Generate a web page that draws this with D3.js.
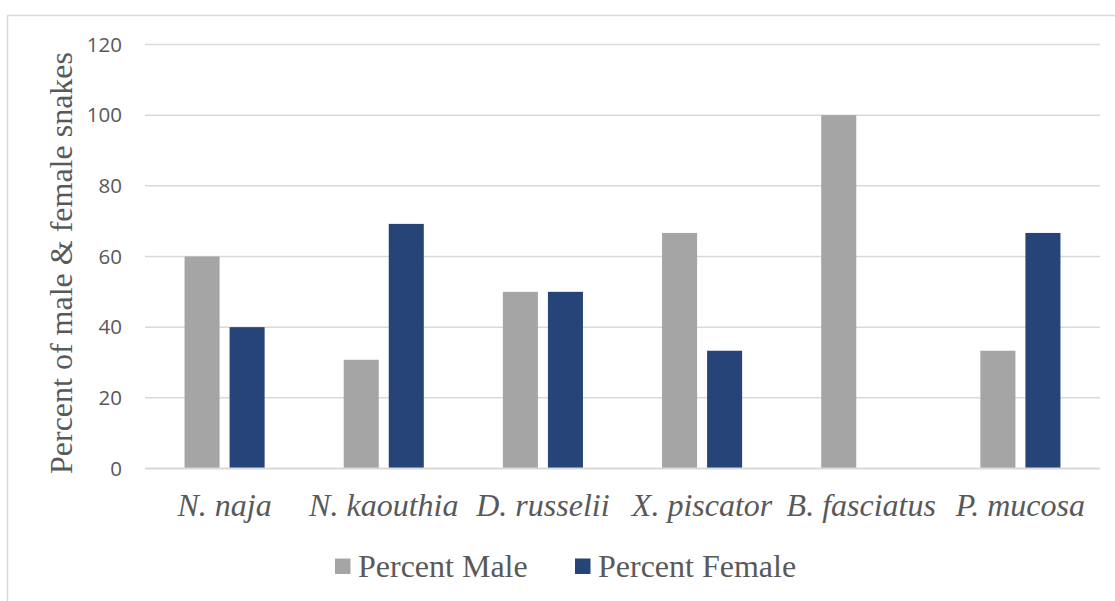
<!DOCTYPE html>
<html>
<head>
<meta charset="utf-8">
<script src="https://cdn.jsdelivr.net/npm/d3@7"></script>
<style>
  html, body { margin: 0; padding: 0; background: #ffffff; }
  svg { display: block; }
  .serif { font-family: "Liberation Serif", "Times New Roman", Times, serif; }
  .sans { font-family: "Open Sans", "Liberation Sans", sans-serif; }
</style>
</head>
<body>
<svg id="chart" width="1115" height="601"></svg>
<script>
// Sex ratio of snakes by species (percent)
const species = ["N. naja", "N. kaouthia", "D. russelii", "X. piscator", "B. fasciatus", "P. mucosa"];
const seriesNames = ["Percent Male", "Percent Female"];
const percentMale = [60, 30.77, 50, 66.67, 100, 33.33];
const percentFemale = [40, 69.23, 50, 33.33, 0, 66.67];
const yTicks = [0, 20, 40, 60, 80, 100, 120];
const colors = ["#A5A5A5", "#264478"];

const svg = d3.select("#chart");
const W = 1115, H = 601;
const plot = { left: 145, right: 1100, top: 44.5, bottom: 468.5 };

// chart frame (left and top edges visible)
svg.append("path")
  .attr("d", `M7.5,${H} L7.5,15.5 L${W},15.5`)
  .attr("fill", "none").attr("stroke", "#D9D9D9").attr("stroke-width", 1.5);

const y = d3.scaleLinear().domain([0, 120]).range([plot.bottom, plot.top]);
const x0 = d3.scaleBand().domain(species).range([plot.left, plot.right]);
const x1 = d3.scaleBand().domain(seriesNames).range([0, x0.bandwidth()])
  .paddingInner(0.222).paddingOuter(0.878);

// gridlines
svg.append("g").selectAll("line")
  .data(yTicks.filter(d => d > 0))
  .join("line")
  .attr("x1", plot.left).attr("x2", plot.right)
  .attr("y1", d => y(d)).attr("y2", d => y(d))
  .attr("stroke", "#D9D9D9").attr("stroke-width", 1.5);

// y axis tick labels
const yAxis = d3.axisLeft(y).tickValues(yTicks).tickSize(0).tickPadding(0);
const gy = svg.append("g").attr("transform", "translate(122,0)").call(yAxis);
gy.select(".domain").remove();
gy.attr("font-family", null).attr("font-size", null);
gy.selectAll("text")
  .attr("class", "sans")
  .attr("font-size", 20.5).attr("fill", "#595959");

// bars
const rows = species.map((s, i) => ({ species: s, values: [percentMale[i], percentFemale[i]] }));
const groups = svg.append("g").selectAll("g")
  .data(rows).join("g")
  .attr("transform", d => `translate(${x0(d.species)},0)`);
groups.selectAll("rect")
  .data(d => d.values.map((v, k) => ({ key: seriesNames[k], value: v, k })))
  .join("rect")
  .attr("x", d => x1(d.key))
  .attr("width", x1.bandwidth())
  .attr("y", d => y(d.value))
  .attr("height", d => y(0) - y(d.value))
  .attr("fill", d => colors[d.k]);

// baseline
svg.append("line")
  .attr("x1", plot.left).attr("x2", plot.right)
  .attr("y1", y(0)).attr("y2", y(0))
  .attr("stroke", "#D9D9D9").attr("stroke-width", 2);

// category labels
const xAxis = d3.axisBottom(x0).tickSize(0).tickPadding(0);
const gx = svg.append("g").attr("transform", `translate(0,${y(0)})`).call(xAxis);
gx.select(".domain").remove();
gx.attr("font-family", null).attr("font-size", null);
gx.selectAll("text")
  .attr("class", "serif")
  .attr("dy", null)
  .attr("y", 47)
  .attr("font-style", "italic")
  .attr("font-size", 32).attr("fill", "#595959");

// y axis title
svg.append("text")
  .attr("class", "serif")
  .attr("transform", "translate(72,263) rotate(-90)")
  .attr("text-anchor", "middle")
  .attr("font-size", 32).attr("fill", "#595959")
  .text("Percent of male & female snakes");

// legend
const legendX = [335, 575];
const legend = svg.append("g").selectAll("g")
  .data(seriesNames).join("g")
  .attr("transform", (d, i) => `translate(${legendX[i]},566)`);
legend.append("rect")
  .attr("x", 0).attr("y", -7.5).attr("width", 15.5).attr("height", 15.5)
  .attr("fill", (d, i) => colors[i]);
legend.append("text")
  .attr("class", "serif")
  .attr("x", 23).attr("y", 11)
  .attr("font-size", 32).attr("fill", "#595959")
  .text(d => d);
</script>
</body>
</html>
